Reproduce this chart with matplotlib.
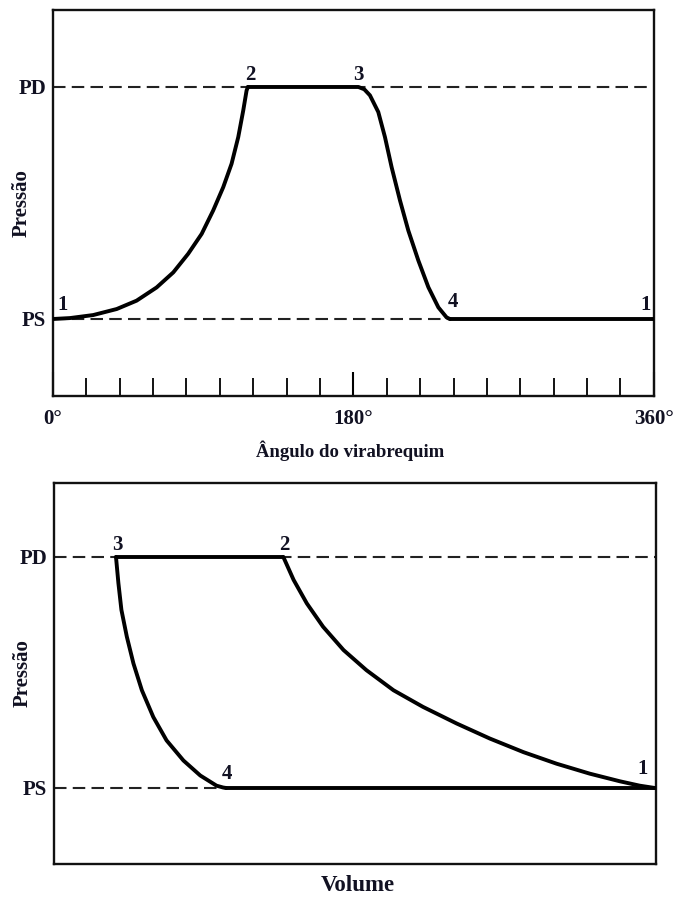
import matplotlib
matplotlib.use('Agg')
import matplotlib.pyplot as plt
from matplotlib.ticker import MultipleLocator

# pressao normalizada: PS = 0, PD = 1
# diagrama pressao x angulo do virabrequim
ang_compr = [0, 10.2, 24.1, 38.2, 50.1, 62.1, 72.1, 81.0, 89.1, 96.0, 102.0, 107.0,
             111.0, 114.0, 116.0, 116.8]
p_compr = [0, 0.004, 0.017, 0.043, 0.079, 0.136, 0.201, 0.281, 0.367, 0.468, 0.568,
           0.669, 0.784, 0.899, 0.985, 1.0]
ang_desc = [116.8, 183.0, 186.5, 189.9, 194.9, 198.9, 202.9, 207.9, 212.9, 218.9,
            224.9, 230.9, 235.8, 237.8]
p_desc = [1.0, 1.0, 0.99, 0.964, 0.892, 0.784, 0.654, 0.511, 0.381, 0.252,
          0.137, 0.050, 0.007, 0]
ang_asp = [237.8, 360]
p_asp = [0, 0]
pts_ang = ['1', '2', '3', '4', '1']
pts_ang_x = [6, 118, 182.7, 239.6, 355.2]
pts_ang_y = [0.04, 1.03, 1.03, 0.05, 0.04]

# diagrama pressao x volume (volume normalizado 0..1)
v_exp = [0.103, 0.107, 0.112, 0.121, 0.132, 0.146, 0.165, 0.187, 0.215, 0.243,
         0.270, 0.281, 0.286]
p_exp = [1.0, 0.887, 0.771, 0.655, 0.539, 0.423, 0.307, 0.206, 0.119, 0.054,
         0.010, 0.002, 0]
v_comp = [0.381, 0.398, 0.420, 0.447, 0.481, 0.519, 0.564, 0.613, 0.669, 0.724,
          0.780, 0.835, 0.890, 0.940, 0.973, 0.998]
p_comp = [1.0, 0.901, 0.799, 0.698, 0.597, 0.510, 0.423, 0.351, 0.279, 0.214,
          0.155, 0.105, 0.062, 0.029, 0.010, 0]
v_desc = [0.103, 0.381]
v_asp = [0.286, 0.998]
pts_vol = ['3', '2', '4', '1']
pts_vol_x = [0.105, 0.382, 0.288, 0.978]
pts_vol_y = [1.03, 1.03, 0.04, 0.062]

serif = ['Liberation Serif', 'DejaVu Serif']
cor_txt = '#111122'
fs = 15

fig = plt.figure(figsize=(6.79, 8.97), dpi=100)
ax1 = fig.add_axes([0.078, 0.5585, 0.885, 0.4304])
ax2 = fig.add_axes([0.0795, 0.0368, 0.8866, 0.4247])

for ax in (ax1, ax2):
    for s in ax.spines.values():
        s.set_linewidth(1.7)
        s.set_color('#111111')
    ax.axhline(1, color='#222222', lw=1.5, dashes=[6, 3], zorder=1)
    ax.axhline(0, color='#222222', lw=1.5, dashes=[6, 3], zorder=1)
    ax.set_yticks([0, 1])
    ax.set_yticklabels(['PS', 'PD'], family=serif, fontweight='bold', fontsize=fs, color=cor_txt)
    ax.tick_params(axis='y', length=0, pad=5)
    ax.set_ylabel('Pressão', family=serif, fontweight='bold', fontsize=fs, color=cor_txt)
    ax.yaxis.set_label_coords(-0.035, 0.5)

kw = dict(color='black', lw=2.8, solid_joinstyle='round', solid_capstyle='round', zorder=3)

# painel superior
ax1.plot(ang_compr, p_compr, **kw)
ax1.plot(ang_desc, p_desc, **kw)
ax1.plot(ang_asp, p_asp, **kw)
for t, x, y in zip(pts_ang, pts_ang_x, pts_ang_y):
    ax1.text(x, y, t, ha='center', va='baseline', family=serif, fontweight='bold',
             fontsize=fs, color=cor_txt)
ax1.set_xlim(0, 360)
ax1.set_ylim(-0.332, 1.332)
ax1.set_xticks([0, 180, 360])
ax1.set_xticklabels(['0°', '180°', '360°'], family=serif, fontweight='bold', fontsize=fs, color=cor_txt)
ax1.xaxis.set_minor_locator(MultipleLocator(20))
ax1.tick_params(axis='x', which='major', direction='in', length=17, width=1.5, pad=9)
ax1.tick_params(axis='x', which='minor', direction='in', length=13, width=1.3)
ax1.set_xlabel('Ângulo do virabrequim', family=serif, fontweight='bold', fontsize=13.5, color=cor_txt)
ax1.xaxis.set_label_coords(0.494, -0.114)

# painel inferior
ax2.plot(v_exp, p_exp, **kw)
ax2.plot(v_comp, p_comp, **kw)
ax2.plot(v_desc, [1, 1], **kw)
ax2.plot(v_asp, [0, 0], **kw)
for t, x, y in zip(pts_vol, pts_vol_x, pts_vol_y):
    ax2.text(x, y, t, ha='center', va='baseline', family=serif, fontweight='bold',
             fontsize=fs, color=cor_txt)
ax2.set_xlim(0, 1)
ax2.set_ylim(-0.329, 1.320)
ax2.set_xticks([])
ax2.set_xlabel('Volume', family=serif, fontweight='bold', fontsize=16.5, color=cor_txt)
ax2.xaxis.set_label_coords(0.505, -0.030)

plt.savefig('out.png', dpi=100)
